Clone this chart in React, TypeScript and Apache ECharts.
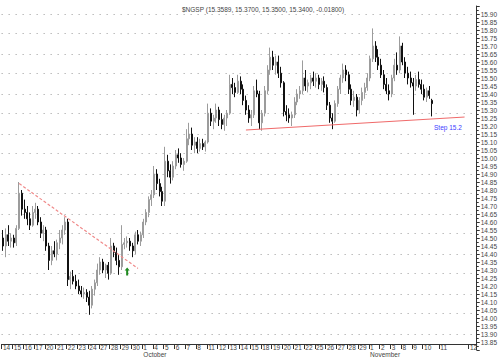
import React, { useEffect, useRef } from "react";
import * as echarts from "echarts";

// Trading days shown on the axis (Sep 14 ... Nov 12)
const days = ["14","15","16","17","20","21","22","23","24","27","28","29","30",
  "1","4","5","6","7","8","11","12","13","14","15","18","19","20","21","22","25","26","27","28","29",
  "1","2","3","8","9","10","11","12"];
const months = ["","","","","","","","","","","","","",
  "October","","","","","","","","","","","","","","","","","","","","",
  "November","","","","","","",""];
// intraday bar slots per day (last days are future/empty space)
const slotsPerDay = [4,4,4,4,4,4,4,4,4,4,4,4,4,4,4,4,4,4,4,4,4,4,4,4,4,4,4,4,4,4,4,4,4,4,4,4,4,4,4,6,11,3];

const opens = [
  14.50,14.45,14.52,14.48, 14.50,14.47,14.56,14.78, 14.68,14.66,14.62,14.58, 14.66,14.68,14.60,14.53,
  14.55,14.45,14.36,14.42, 14.40,14.47,14.50,14.55, 14.60,14.24,14.26,14.23, 14.20,14.17,14.15,14.16,
  14.13,14.08,14.18,14.22, 14.30,14.35,14.30,14.33, 14.28,14.45,14.41,14.36, 14.32,14.46,14.47,14.48,
  14.45,14.42,14.52,14.48, 14.52,14.60,14.66,14.74, 14.77,14.90,14.84,14.79, 14.73,14.98,14.92,14.88,
  14.95,15.02,15.00,14.96, 14.98,15.12,15.15,15.08, 15.10,15.06,15.09,15.07, 15.10,15.28,15.23,15.25,
  15.30,15.24,15.21,15.25, 15.28,15.46,15.44,15.41, 15.48,15.43,15.36,15.30, 15.25,15.27,15.42,15.40,
  15.22,15.28,15.42,15.55, 15.63,15.58,15.60,15.53, 15.47,15.29,15.27,15.25, 15.27,15.35,15.40,15.42,
  15.50,15.45,15.47,15.50, 15.48,15.50,15.46,15.48, 15.44,15.33,15.25,15.23, 15.34,15.43,15.50,15.55,
  15.52,15.43,15.36,15.38, 15.30,15.36,15.41,15.44, 15.50,15.62,15.70,15.63, 15.58,15.52,15.46,15.42,
  15.40,15.50,15.58,15.55, 15.70,15.60,15.53,15.50, 15.47,15.45,15.49,15.46, 15.43,15.38,15.42,15.36
];
const highs = [
  14.55,14.56,14.58,14.53, 14.52,14.58,14.85,14.80, 14.74,14.70,14.66,14.70, 14.72,14.70,14.63,14.58,
  14.57,14.47,14.45,14.48, 14.49,14.55,14.58,14.63, 14.62,14.29,14.30,14.27, 14.24,14.20,14.19,14.18,
  14.17,14.20,14.24,14.34, 14.38,14.37,14.34,14.35, 14.50,14.47,14.44,14.40, 14.58,14.50,14.51,14.50,
  14.47,14.54,14.55,14.54, 14.62,14.68,14.76,14.80, 14.95,14.93,14.87,14.82, 15.07,15.02,14.96,14.98,
  15.05,15.06,15.03,15.00, 15.18,15.22,15.19,15.13, 15.13,15.12,15.12,15.11, 15.34,15.31,15.27,15.34,
  15.32,15.28,15.27,15.30, 15.52,15.50,15.47,15.52, 15.51,15.46,15.39,15.33, 15.30,15.45,15.49,15.42,
  15.30,15.45,15.58,15.69, 15.67,15.64,15.64,15.57, 15.48,15.33,15.31,15.29, 15.38,15.43,15.45,15.61,
  15.55,15.49,15.52,15.54, 15.53,15.52,15.50,15.51, 15.46,15.35,15.28,15.36, 15.45,15.52,15.59,15.58,
  15.54,15.46,15.42,15.40, 15.38,15.44,15.47,15.53, 15.64,15.81,15.73,15.68, 15.62,15.55,15.50,15.46,
  15.52,15.62,15.66,15.76, 15.72,15.63,15.57,15.54, 15.50,15.52,15.54,15.49, 15.46,15.44,15.45,15.37
];
const lows = [
  14.42,14.38,14.45,14.44, 14.44,14.45,14.55,14.64, 14.62,14.58,14.55,14.57, 14.62,14.58,14.50,14.48,
  14.42,14.30,14.33,14.38, 14.36,14.43,14.46,14.52, 14.20,14.18,14.21,14.18, 14.15,14.13,14.12,14.10,
  14.02,14.06,14.14,14.20, 14.27,14.28,14.25,14.24, 14.27,14.38,14.33,14.27, 14.30,14.43,14.44,14.42,
  14.38,14.40,14.46,14.45, 14.50,14.58,14.63,14.70, 14.75,14.80,14.76,14.70, 14.70,14.88,14.84,14.86,
  14.93,14.97,14.94,14.92, 14.97,15.08,15.05,15.03, 15.03,15.04,15.05,15.04, 15.09,15.20,15.18,15.22,
  15.20,15.18,15.17,15.20, 15.27,15.40,15.38,15.40, 15.40,15.33,15.27,15.22, 15.20,15.25,15.38,15.18,
  15.17,15.26,15.40,15.52, 15.55,15.52,15.50,15.44, 15.26,15.23,15.22,15.20, 15.25,15.33,15.37,15.40,
  15.42,15.41,15.43,15.45, 15.44,15.43,15.42,15.41, 15.30,15.22,15.18,15.22, 15.32,15.40,15.47,15.48,
  15.40,15.33,15.32,15.26, 15.28,15.33,15.37,15.42, 15.48,15.60,15.60,15.55, 15.50,15.43,15.40,15.36,
  15.38,15.48,15.52,15.53, 15.58,15.50,15.46,15.44, 15.27,15.42,15.44,15.40, 15.36,15.35,15.37,15.26
];
const closes = [
  14.45,14.52,14.48,14.50, 14.47,14.56,14.78,14.68, 14.66,14.62,14.58,14.66, 14.68,14.60,14.53,14.55,
  14.45,14.36,14.42,14.40, 14.47,14.50,14.55,14.60, 14.24,14.26,14.23,14.20, 14.17,14.15,14.16,14.13,
  14.08,14.18,14.22,14.30, 14.35,14.30,14.33,14.28, 14.45,14.41,14.36,14.32, 14.46,14.47,14.48,14.45,
  14.42,14.52,14.48,14.52, 14.60,14.66,14.74,14.77, 14.90,14.84,14.79,14.73, 14.98,14.92,14.88,14.95,
  15.02,15.00,14.96,14.98, 15.12,15.15,15.08,15.10, 15.06,15.09,15.07,15.10, 15.28,15.23,15.25,15.30,
  15.24,15.21,15.25,15.28, 15.46,15.44,15.41,15.48, 15.43,15.36,15.30,15.25, 15.27,15.42,15.40,15.22,
  15.28,15.42,15.55,15.63, 15.58,15.60,15.53,15.47, 15.29,15.27,15.25,15.27, 15.35,15.40,15.42,15.50,
  15.45,15.47,15.50,15.48, 15.50,15.46,15.48,15.44, 15.33,15.25,15.23,15.34, 15.43,15.50,15.55,15.52,
  15.43,15.36,15.38,15.30, 15.36,15.41,15.44,15.50, 15.62,15.70,15.63,15.58, 15.52,15.46,15.42,15.40,
  15.50,15.58,15.55,15.70, 15.60,15.53,15.50,15.47, 15.45,15.49,15.46,15.43, 15.38,15.42,15.39,15.34
];

// annotations: [slot index, price]
const downTrend = [[6, 14.84], [50, 14.31]];
const supportLine = [[90, 15.175], [171, 15.256]];
const arrowPoint = [46, 14.29];
const gridStart = 13.90;
const gridStep = 0.125;
const gridCount = 17;

const TITLE = "$NGSP (15.3589, 15.3700, 15.3500, 15.3400, -0.01800)";
const FONT = "'Liberation Sans Narrow', 'Liberation Sans', Arial, sans-serif";

export default function App() {
  const ref = useRef<HTMLDivElement>(null);
  useEffect(() => {
    if (!ref.current) return;
    const chart = echarts.init(ref.current, undefined, { renderer: "svg" });

    const cats: string[] = [];
    const monthCats: string[] = [];
    const dayStart: boolean[] = [];
    days.forEach((d, i) => {
      for (let k = 0; k < slotsPerDay[i]; k++) {
        cats.push(k === 0 ? d : "");
        monthCats.push(k === 0 ? months[i] : "");
        dayStart.push(k === 0);
      }
    });
    const candles = opens.map((o, i) => [o, closes[i], lows[i], highs[i]]);
    const gridLevels: number[] = [];
    for (let k = 0; k < gridCount; k++) gridLevels.push(+(gridStart + k * gridStep).toFixed(3));

    chart.setOption({
      animation: false,
      backgroundColor: "#ffffff",
      textStyle: { fontFamily: FONT },
      title: {
        text: TITLE,
        left: 177,
        top: 1,
        textStyle: { fontSize: 6.5, fontWeight: "normal", color: "#444", fontFamily: FONT },
      },
      grid: { left: -3, right: 21, top: 6, bottom: 8 },
      xAxis: [
        {
          type: "category",
          data: cats,
          boundaryGap: true,
          offset: -6,
          axisLine: { show: true, lineStyle: { color: "#333", width: 1 } },
          axisTick: { show: true, interval: (i: number) => dayStart[i], length: 5, lineStyle: { color: "#333" } },
          axisLabel: {
            interval: (i: number) => dayStart[i],
            align: "left",
            margin: 0,
            fontSize: 6.5,
            color: "#444",
            fontFamily: FONT,
          },
          splitLine: { show: false },
        },
        {
          type: "category",
          data: monthCats,
          position: "bottom",
          boundaryGap: true,
          offset: 0,
          axisLine: { show: false },
          axisTick: { show: false },
          axisLabel: {
            interval: (i: number) => monthCats[i] !== "",
            align: "left",
            margin: 1,
            fontSize: 6.5,
            color: "#444",
            fontFamily: FONT,
          },
          splitLine: { show: false },
        },
      ],
      yAxis: {
        type: "value",
        position: "right",
        min: 13.8,
        max: 15.95,
        interval: 0.05,
        axisLine: { show: true, lineStyle: { color: "#333", width: 1 } },
        axisTick: { show: true, length: 3, lineStyle: { color: "#333" } },
        minorTick: { show: true, splitNumber: 2, length: 2, lineStyle: { color: "#333" } },
        axisLabel: {
          fontSize: 6.5,
          color: "#444",
          margin: 4,
          fontFamily: FONT,
          showMinLabel: false,
          showMaxLabel: false,
          formatter: (v: number) => v.toFixed(2),
        },
        splitLine: { show: false },
      },
      series: [
        {
          type: "line",
          data: [],
          silent: true,
          z: 1,
          markLine: {
            silent: true,
            z: 1,
            symbol: ["none", "none"],
            label: { show: false },
            lineStyle: { color: "#9a9a9a", type: [1, 6], width: 1 },
            data: gridLevels.map((v) => ({ yAxis: v })),
          },
        },
        {
          type: "candlestick",
          data: candles,
          barWidth: 1.5,
          z: 2,
          itemStyle: {
            color: "#9c9c9c",
            color0: "#111111",
            borderColor: "#9c9c9c",
            borderColor0: "#111111",
            borderWidth: 1,
          },
          markLine: {
            silent: true,
            symbol: ["none", "none"],
            label: { show: false },
            data: [
              [
                { coord: downTrend[0], lineStyle: { color: "#f08a8a", type: [3, 2], width: 1.2 } },
                { coord: downTrend[1] },
              ],
              [
                { coord: supportLine[0], lineStyle: { color: "#f06a6a", type: "solid", width: 1 } },
                { coord: supportLine[1] },
              ],
            ],
          },
          markPoint: {
            silent: true,
            label: { show: false },
            data: [
              {
                coord: arrowPoint,
                symbol: "path://M5,0 L10,5 L7,5 L7,14 L3,14 L3,5 L0,5 Z",
                symbolSize: [5, 8],
                itemStyle: { color: "#1f8a1f" },
              },
            ],
          },
        },
      ],
      graphic: [
        {
          type: "text",
          left: 434,
          top: 124,
          style: { text: "Step 15.2", fill: "#3c3cff", fontSize: 6.5, fontFamily: FONT },
        },
      ],
    });
    return () => chart.dispose();
  }, []);
  return (
    <div
      ref={ref}
      style={{ position: "fixed", left: 0, top: 0, width: 500, height: 358, background: "#fff" }}
    />
  );
}
